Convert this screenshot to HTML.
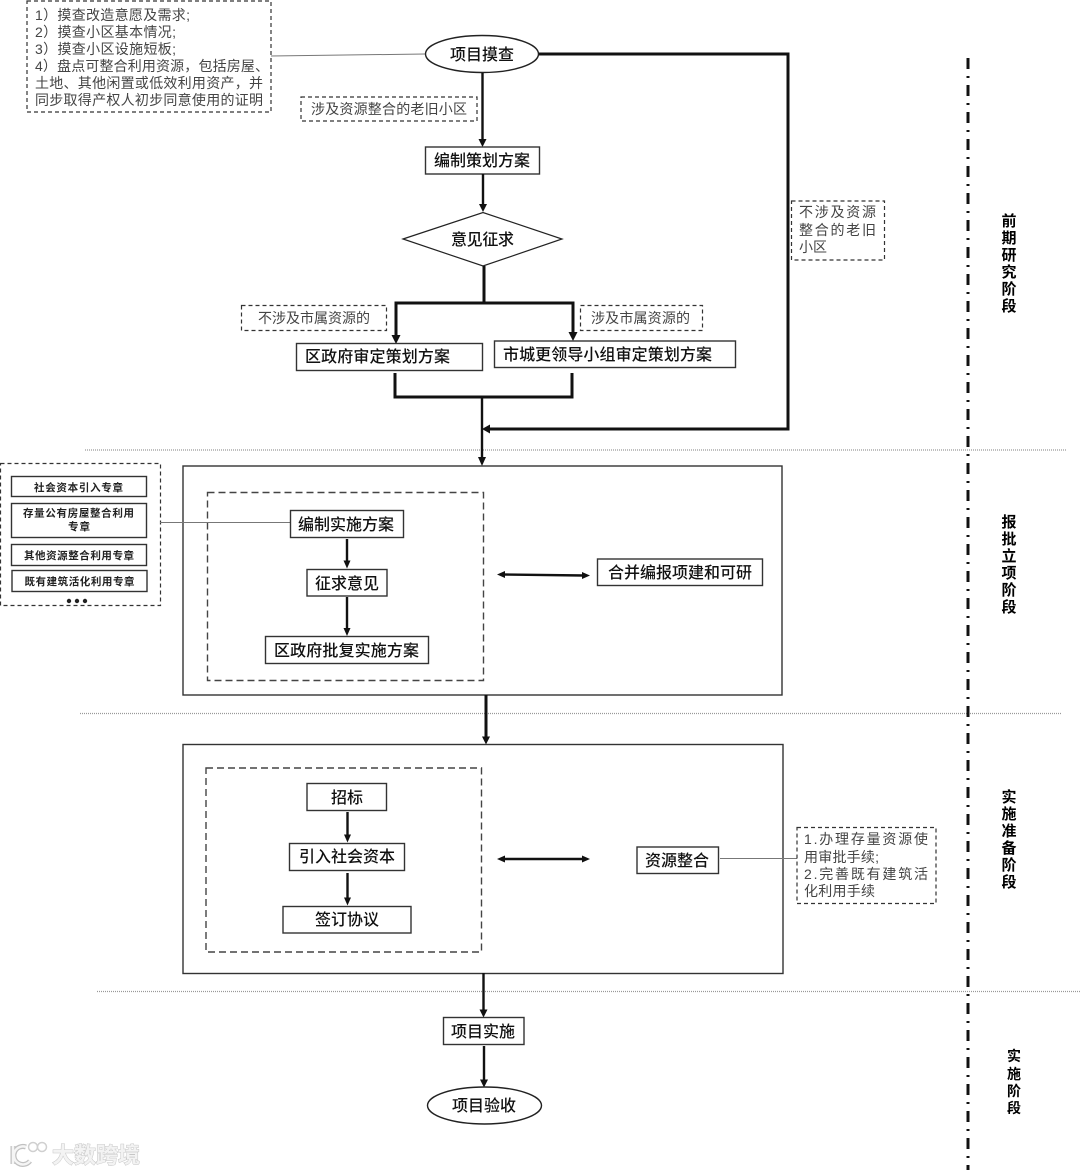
<!DOCTYPE html>
<html lang="zh"><head><meta charset="utf-8"><title>流程图</title>
<style>
html,body{margin:0;padding:0;background:#fff;width:1080px;height:1175px;overflow:hidden}
svg{display:block}
text{font-family:"Liberation Sans","Noto Sans CJK SC",sans-serif}
.b{fill:#fff;stroke:#333;stroke-width:1.4}
.d{fill:#fff;stroke:#333;stroke-width:1.2;stroke-dasharray:4 3}
.dl{fill:none;stroke:#444;stroke-width:1.4;stroke-dasharray:7 4}
.t{font-size:16px;fill:#111;font-weight:500}
.n{font-size:14px;fill:#444}
.s{font-size:10.5px;fill:#222;font-weight:700}
.p{font-size:15px;fill:#000;font-weight:700}
.l{fill:none;stroke:#111;stroke-width:3}
.m{fill:none;stroke:#111;stroke-width:2.4}
.g{fill:none;stroke:#777;stroke-width:1}
.sep{stroke:#999;stroke-width:1.2;stroke-dasharray:1 1}
.a{fill:#111}
</style></head><body>
<svg width="1080" height="1175" viewBox="0 0 1080 1175" xmlns="http://www.w3.org/2000/svg">
<rect width="1080" height="1175" fill="#fff"/>

<!-- separators -->
<line class="sep" x1="85" y1="450" x2="1067" y2="450"/>
<line class="sep" x1="80" y1="713.500" x2="1062" y2="713.500"/>
<line class="sep" x1="97" y1="991.500" x2="1080" y2="991.500"/>

<!-- dash-dot vertical -->
<line x1="968" y1="58" x2="968" y2="1170" stroke="#111" stroke-width="3" stroke-dasharray="11 7 2 7"/>

<!-- top note -->
<rect class="d" x="27" y="1" width="244" height="111"/>
<text class="n" x="35" y="20" textLength="155">1）摸查改造意愿及需求;</text>
<text class="n" x="35" y="37" textLength="141">2）摸查小区基本情况;</text>
<text class="n" x="35" y="54" textLength="141">3）摸查小区设施短板;</text>
<text class="n" x="35" y="71" textLength="234">4）盘点可整合利用资源，包括房屋、</text>
<text class="n" x="35" y="88" textLength="228">土地、其他闲置或低效利用资产，并</text>
<text class="n" x="35" y="105" textLength="228">同步取得产权人初步同意使用的证明</text>
<line class="g" x1="271" y1="56" x2="425" y2="54" stroke="#888"/>

<!-- main top flow -->
<path class="l" d="M538 54H788V429H488"/>
<path class="a" d="M482 429l8-4.500v9z"/>
<ellipse cx="482" cy="54" rx="56.500" ry="18.500" fill="#fff" stroke="#222" stroke-width="1.4"/>
<text class="t" x="450" y="60" textLength="64">项目摸查</text>

<path class="m" d="M482.500 73V142"/>
<path class="a" d="M482.500 147l-4-8h8z"/>
<rect class="d" x="301" y="97" width="176" height="24"/>
<text class="n" x="311" y="114" textLength="156">涉及资源整合的老旧小区</text>

<rect class="b" x="425.500" y="147" width="114" height="27"/>
<text class="t" x="434" y="166" textLength="96">编制策划方案</text>
<path class="m" d="M483 174V207"/>
<path class="a" d="M483 212l-4-8h8z"/>

<polygon points="403,239 483,212.500 562,239 483,266" fill="#fff" stroke="#222" stroke-width="1.2"/>
<text class="t" x="451" y="245" textLength="63">意见征求</text>

<path class="l" d="M484 266V303M396 338V303H573V335"/>
<path class="a" d="M396 344l-4.500-9h9zM573 341l-4.500-9h9z"/>

<rect class="d" x="241.500" y="305.500" width="145" height="25"/>
<text class="n" x="258" y="323" textLength="112">不涉及市属资源的</text>
<rect class="d" x="580.500" y="305.500" width="122" height="25"/>
<text class="n" x="591" y="323" textLength="99">涉及市属资源的</text>

<rect class="b" x="296.500" y="343.500" width="186" height="27"/>
<text class="t" x="305" y="362" textLength="145">区政府审定策划方案</text>
<rect class="b" x="494.500" y="341" width="241" height="26.500"/>
<text class="t" x="503" y="360" textLength="209">市城更领导小组审定策划方案</text>

<path class="l" d="M395 373V397H572V373"/>
<path class="m" d="M482 397V459"/>
<path class="a" d="M482 466l-4-9h8z"/>

<rect class="d" x="791.500" y="201" width="93" height="59"/>
<text class="n" x="799" y="217" textLength="77">不涉及资源</text>
<text class="n" x="799" y="235" textLength="77">整合的老旧</text>
<text class="n" x="799" y="252" textLength="28">小区</text>

<!-- stage 2 -->
<rect class="b" x="183" y="466" width="599" height="229"/>
<rect class="dl" x="207.500" y="492.500" width="276" height="188"/>

<rect class="d" x="0.500" y="463.500" width="160" height="142"/>
<rect class="b" x="11.500" y="476.500" width="135" height="20"/>
<text class="s" x="34" y="491" textLength="89">社会资本引入专章</text>
<rect class="b" x="11.500" y="503.500" width="135" height="34"/>
<text class="s" x="23" y="516.500" textLength="111">存量公有房屋整合利用</text>
<text class="s" x="68" y="530" textLength="22">专章</text>
<rect class="b" x="11.500" y="544.500" width="135" height="21"/>
<text class="s" x="24" y="559" textLength="110">其他资源整合利用专章</text>
<rect class="b" x="12" y="570.500" width="135" height="21"/>
<text class="s" x="24.500" y="585" textLength="110">既有建筑活化利用专章</text>
<circle cx="69" cy="601" r="2.200" fill="#222"/><circle cx="77" cy="601" r="2.200" fill="#222"/><circle cx="85" cy="601" r="2.200" fill="#222"/>
<line class="g" x1="160" y1="522.500" x2="290" y2="522.500"/>

<rect class="b" x="290.500" y="510.500" width="113" height="27"/>
<text class="t" x="298" y="530" textLength="96">编制实施方案</text>
<path class="m" d="M347 539V562"/><path class="a" d="M347 568.500l-3.500-8h7z"/>
<rect class="b" x="307" y="569.500" width="80" height="26.500"/>
<text class="t" x="315" y="589" textLength="64">征求意见</text>
<path class="m" d="M347 597V630"/><path class="a" d="M347 636l-3.500-8h7z"/>
<rect class="b" x="265.500" y="636.500" width="163" height="27"/>
<text class="t" x="274" y="656" textLength="145">区政府批复实施方案</text>

<path class="m" d="M502 574.500L584 575.500"/>
<path class="a" d="M497 574.500l8-3.500v7zM590 575.500l-8-3.500v7z"/>
<rect class="b" x="597.500" y="559" width="165" height="26.500"/>
<text class="t" x="608" y="578" textLength="144">合并编报项建和可研</text>

<path class="l" d="M486 695V738" stroke-width="2.600"/>
<path class="a" d="M486 744.500l-4-8h8z"/>

<!-- stage 3 -->
<rect class="b" x="183" y="744.500" width="600" height="229"/>
<rect class="dl" x="206" y="768" width="275.500" height="184"/>

<rect class="b" x="307" y="783.500" width="79.500" height="27"/>
<text class="t" x="331" y="803" textLength="32">招标</text>
<path class="m" d="M347.500 812V836"/><path class="a" d="M347.500 842.500l-3.500-8h7z"/>
<rect class="b" x="289.500" y="843.500" width="115" height="27"/>
<text class="t" x="299" y="862" textLength="96">引入社会资本</text>
<path class="m" d="M347.500 873V899"/><path class="a" d="M347.500 905.500l-3.500-8h7z"/>
<rect class="b" x="283" y="906.500" width="128" height="26.500"/>
<text class="t" x="315" y="925" textLength="64">签订协议</text>

<path class="m" d="M502 859H584"/>
<path class="a" d="M497 859l8-3.500v7zM590 859l-8-3.500v7z"/>
<rect class="b" x="637" y="847" width="81.500" height="26.500"/>
<text class="t" x="645" y="866" textLength="64">资源整合</text>
<line class="g" x1="720" y1="858.500" x2="797" y2="858.500" stroke="#666"/>

<rect class="d" x="797" y="827.500" width="139" height="76"/>
<text class="n" x="804" y="844" textLength="124">1.办理存量资源使</text>
<text class="n" x="804" y="862" textLength="75">用审批手续;</text>
<text class="n" x="804" y="879" textLength="124">2.完善既有建筑活</text>
<text class="n" x="804" y="896" textLength="71">化利用手续</text>

<path class="m" d="M483.500 973V1011"/><path class="a" d="M483.500 1017.500l-4-8h8z"/>
<rect class="b" x="443.500" y="1017.500" width="80.500" height="27"/>
<text class="t" x="451" y="1037" textLength="64">项目实施</text>
<path class="m" d="M484 1046V1081"/><path class="a" d="M484 1087.500l-4-8h8z"/>
<ellipse cx="484.500" cy="1105.500" rx="57" ry="18.500" fill="#fff" stroke="#222" stroke-width="1.400"/>
<text class="t" x="452" y="1111" textLength="64">项目验收</text>

<!-- phase labels -->
<g class="p" text-anchor="middle">
<text x="1009" y="226">前</text><text x="1009" y="243">期</text><text x="1009" y="260">研</text><text x="1009" y="277">究</text><text x="1009" y="294">阶</text><text x="1009" y="311">段</text>
<text x="1009" y="527">报</text><text x="1009" y="544">批</text><text x="1009" y="561">立</text><text x="1009" y="578">项</text><text x="1009" y="595">阶</text><text x="1009" y="612">段</text>
<text x="1009" y="802">实</text><text x="1009" y="819">施</text><text x="1009" y="836">准</text><text x="1009" y="853">备</text><text x="1009" y="870">阶</text><text x="1009" y="887">段</text>
<g style="font-size:14px"><text x="1014" y="1061">实</text><text x="1014" y="1079">施</text><text x="1014" y="1096">阶</text><text x="1014" y="1113">段</text></g>
</g>

<!-- watermark -->
<g opacity="0.9">
<path d="M13 1146V1164M26 1147a9 9 0 1 0 4 14" fill="none" stroke="#bbb" stroke-width="5"/>
<path d="M13 1146V1164M26 1147a9 9 0 1 0 4 14" fill="none" stroke="#f4f4f4" stroke-width="2.500"/>
<circle cx="33" cy="1147" r="4.500" fill="#fff" stroke="#ccc" stroke-width="1.500"/>
<circle cx="42" cy="1147" r="4.500" fill="#fff" stroke="#ccc" stroke-width="1.500"/>
<text x="52" y="1163" textLength="88" style="font-size:22px;font-weight:700;fill:#f2f2f2;stroke:#c0c0c0;stroke-width:1;paint-order:stroke">大数跨境</text>
</g>
</svg>
</body></html>
